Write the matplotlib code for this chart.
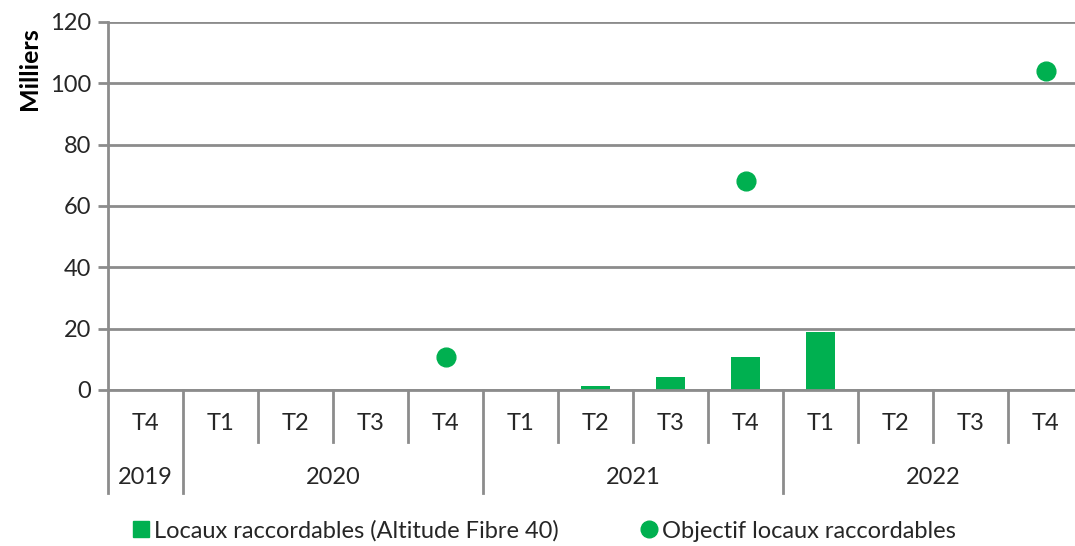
import numpy as np
import matplotlib
matplotlib.use("Agg")
import matplotlib.pyplot as plt
from matplotlib.lines import Line2D
from matplotlib.transforms import blended_transform_factory

plt.rcParams['font.family'] = ['Lato', 'DejaVu Sans']

quarters = ["T4", "T1", "T2", "T3", "T4", "T1", "T2", "T3", "T4", "T1", "T2", "T3", "T4"]
years = ["2019", "2020", "2021", "2022"]
year_spans = [(0, 0), (1, 4), (5, 8), (9, 12)]
# milliers de locaux
locaux = [np.nan, np.nan, np.nan, np.nan, np.nan, np.nan, 1.4, 4.4, 10.7, 19.0, np.nan, np.nan, np.nan]
objectif = [np.nan, np.nan, np.nan, np.nan, 10.7, np.nan, np.nan, np.nan, 68.1, np.nan, np.nan, np.nan, 104.0]

green = "#00B050"
grid_col = "#8C8C8C"
text_col = "#262626"
fs = 17

fig = plt.figure(figsize=(10.75, 5.46), dpi=100)
ax = fig.add_axes([108 / 1075, 156 / 546, 975 / 1075, 368 / 546])

x = np.arange(len(quarters))
ax.bar(x, locaux, width=0.39, color=green, zorder=3)
ax.plot(x, objectif, 'o', color=green, markersize=13.5, linestyle='none', zorder=4)

ax.set_xlim(-0.5, len(quarters) - 0.5)
ax.set_ylim(0, 120)
ax.set_yticks(range(0, 121, 20))
ax.yaxis.grid(True, color=grid_col, linewidth=2)
ax.set_axisbelow(True)
for s in ["top", "right", "bottom"]:
    ax.spines[s].set_visible(False)
ax.spines["left"].set_color(grid_col)
ax.spines["left"].set_linewidth(2)
ax.tick_params(axis='y', length=7, width=2, color=grid_col, labelsize=fs, labelcolor=text_col, pad=5)
ax.set_xticks([])

ax.text(-0.081, 0.985, "Milliers", transform=ax.transAxes, rotation=90, fontsize=fs + 1,
        fontweight='bold', ha='center', va='top', color="black")

# two-level category axis
tr = blended_transform_factory(ax.transData, ax.transAxes)
ax.plot([-0.5, len(quarters) - 0.5], [0, 0], transform=tr, color=grid_col, lw=2, clip_on=False, zorder=5)
year_edges = [s[0] - 0.5 for s in year_spans]
for b in np.arange(-0.5, len(quarters), 1.0):
    bottom = -0.28 if b in year_edges or b == len(quarters) - 0.5 else -0.141
    ax.plot([b, b], [0, bottom], transform=tr, color=grid_col, lw=2, clip_on=False)
for i, q in enumerate(quarters):
    ax.text(i, -0.092, q, transform=tr, ha='center', va='center', fontsize=fs, color=text_col)
for y, (a, b) in zip(years, year_spans):
    ax.text((a + b) / 2, -0.239, y, transform=tr, ha='center', va='center', fontsize=fs, color=text_col)

handles = [
    Line2D([], [], marker='s', color=green, linestyle='none', markersize=11),
    Line2D([], [], marker='o', color=green, linestyle='none', markersize=12),
]
fig.legend(handles, ["Locaux raccordables (Altitude Fibre 40)", "Objectif locaux raccordables"],
           loc='center', bbox_to_anchor=(543 / 1075, 1 - 531 / 546), ncol=2, frameon=False,
           fontsize=fs, handletextpad=0.1, columnspacing=3.4, handlelength=0.9,
           labelcolor=text_col)

fig.savefig("out.png", dpi=100, facecolor="white")
